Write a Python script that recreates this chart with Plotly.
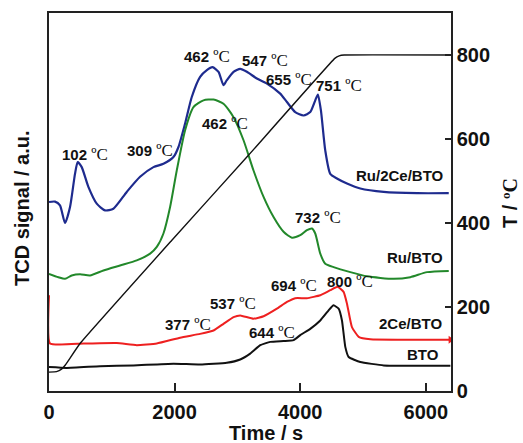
import plotly.graph_objects as go

# ---- data (time in s, signal in a.u. on a 0-900 scale, temperature in °C)
t_time = [0, 120, 200, 260, 494, 1956, 3150, 4550, 4620, 4700, 6400]
t_temp = [45, 46, 52, 62, 113, 359, 557, 792, 798, 800, 800]

ru2ce_time = [0, 96, 175, 255, 335, 414, 457, 521, 627, 760, 892, 1025, 1238, 1450, 1663, 1822, 1981, 2061, 2167, 2273, 2406, 2513, 2603, 2699, 2778, 2831, 2938, 3044, 3150, 3309, 3469, 3681, 3788, 3920, 4053, 4159, 4239, 4281, 4329, 4398, 4478, 4584, 4744, 4956, 5328, 5859, 6364]
ru2ce_sig = [450, 451, 442, 400, 438, 517, 545, 533, 486, 446, 430, 434, 474, 510, 533, 541, 557, 581, 637, 700, 748, 764, 771, 760, 728, 740, 760, 767, 760, 744, 732, 708, 688, 664, 656, 664, 692, 706, 668, 573, 517, 506, 494, 482, 474, 471, 471]

ru_time = [0, 149, 255, 361, 494, 653, 866, 1131, 1397, 1610, 1716, 1822, 1928, 2034, 2167, 2300, 2459, 2619, 2778, 2938, 3097, 3256, 3416, 3575, 3734, 3867, 4000, 4106, 4186, 4239, 4319, 4398, 4531, 4797, 5063, 5488, 5753, 6018, 6364]
ru_sig = [279, 271, 267, 275, 278, 275, 287, 299, 311, 327, 343, 375, 438, 525, 621, 676, 692, 694, 684, 652, 597, 525, 462, 414, 379, 365, 371, 383, 387, 375, 327, 303, 295, 283, 273, 267, 271, 283, 286]

ce_time = [0, 16, 547, 1078, 1397, 1716, 2088, 2406, 2619, 2778, 2938, 3044, 3256, 3416, 3628, 3788, 3920, 4106, 4319, 4478, 4595, 4690, 4744, 4823, 4930, 5116, 5594, 6390]
ce_sig = [228, 113, 113, 114, 109, 113, 127, 136, 144, 160, 176, 180, 172, 178, 196, 212, 221, 221, 228, 240, 248, 236, 208, 152, 129, 123, 122, 122]

bto_time = [0, 282, 813, 1344, 1981, 2406, 2831, 3044, 3203, 3363, 3522, 3734, 3894, 4000, 4159, 4319, 4451, 4531, 4611, 4664, 4717, 4770, 4956, 5328, 5859, 6390]
bto_sig = [57, 55, 59, 61, 65, 63, 67, 75, 89, 109, 117, 119, 121, 133, 148, 168, 192, 204, 196, 168, 105, 81, 69, 61, 60, 60]

peak_labels = ["102", "309", "462", "547", "655", "751", "462", "732", "694", "800", "537", "377", "644"]
peak_x = [574, 1610, 2513, 3442, 3814, 4611, 2805, 4282, 3894, 4797, 2927, 2205, 3549]
peak_y = [563, 573, 797, 787, 741, 728, 638, 414, 252, 260, 208, 159, 140]

sample_labels = ["Ru/2Ce/BTO", "Ru/BTO", "2Ce/BTO", "BTO"]
sample_x = [5583, 5822, 5753, 5955]
sample_y = [513, 317, 160, 87]

x_ticks = [0, 2000, 4000, 6000]
t_ticks = [0, 200, 400, 600, 800]

FONT = "Liberation Sans, Arial, sans-serif"
BLUE = "#1e2b8e"
GREEN = "#22882a"
RED = "#ee2020"
BLACK = "#111111"

L, R, T, B = 49, 72, 13, 52
W, H = 523, 443
pw, ph = W - L - R, H - T - B

fig = go.Figure()
fig.add_trace(go.Scatter(x=ru2ce_time, y=ru2ce_sig, mode="lines", line=dict(color=BLUE, width=2.2, shape="spline", smoothing=0.6)))
fig.add_trace(go.Scatter(x=ru_time, y=ru_sig, mode="lines", line=dict(color=GREEN, width=2, shape="spline", smoothing=0.6)))
fig.add_trace(go.Scatter(x=ce_time, y=ce_sig, mode="lines", line=dict(color=RED, width=2, shape="spline", smoothing=0.4)))
fig.add_trace(go.Scatter(x=ce_time[-1:], y=ce_sig[-1:], mode="markers", marker=dict(symbol="triangle-right", size=7, color=RED)))
fig.add_trace(go.Scatter(x=bto_time, y=bto_sig, mode="lines", line=dict(color=BLACK, width=2, shape="spline", smoothing=0.4)))
fig.add_trace(go.Scatter(x=t_time, y=t_temp, mode="lines", yaxis="y2", line=dict(color=BLACK, width=1.4, shape="spline", smoothing=0.3)))

deg = "<span style='font-family:Liberation Serif;font-weight:normal;font-size:17px'>ºC</span>"
for lab, x, y in zip(peak_labels, peak_x, peak_y):
    fig.add_annotation(x=x, y=y, xref="x", yref="y", text="<b>" + lab + "</b> " + deg, showarrow=False,
                       font=dict(family=FONT, size=15, color="#111"))
for lab, x, y in zip(sample_labels, sample_x, sample_y):
    fig.add_annotation(x=x, y=y, xref="x", yref="y", text="<b>" + lab + "</b>", showarrow=False,
                       font=dict(family=FONT, size=15, color="#111"))


def px_annot(text, xp, yp, angle=0):
    fig.add_annotation(x=(xp - L) / pw, y=(H - B - yp) / ph, xref="paper", yref="paper", text=text,
                       showarrow=False, textangle=angle, xanchor="center", yanchor="middle",
                       font=dict(family=FONT, size=20, color="#111"))


px_annot("<b>Time / s</b>", 266, 433)
px_annot("<b>TCD signal / a.u.</b>", 22, 208, -90)
px_annot("<b>T / </b><span style='font-family:Liberation Serif;font-weight:bold'>ºC</span>", 510, 203, -90)

TICKFONT = dict(family=FONT, size=20, color="#111", weight="bold")
fig.update_layout(
    width=W, height=H, margin=dict(l=L, r=R, t=T, b=B),
    paper_bgcolor="white", plot_bgcolor="white", showlegend=False,
    font=dict(family=FONT, color="#111"),
    xaxis=dict(range=[0, 6400], tickvals=x_ticks, ticks="inside", ticklen=8, tickwidth=1.5, tickcolor="#222",
               showline=True, linecolor="#222", linewidth=1.5, mirror=True, showgrid=False, zeroline=False,
               tickfont=TICKFONT, ticklabelstandoff=2),
    yaxis=dict(range=[0, 900], showticklabels=False, ticks="", showline=True, linecolor="#222", linewidth=1.5,
               showgrid=False, zeroline=False),
    yaxis2=dict(range=[0, 900], overlaying="y", side="right", tickvals=t_ticks, ticks="inside", ticklen=6,
                tickwidth=1.5, tickcolor="#222", showline=True, linecolor="#222", linewidth=1.5, showgrid=False,
                zeroline=False, tickfont=TICKFONT),
)

fig.write_html("out.html")
